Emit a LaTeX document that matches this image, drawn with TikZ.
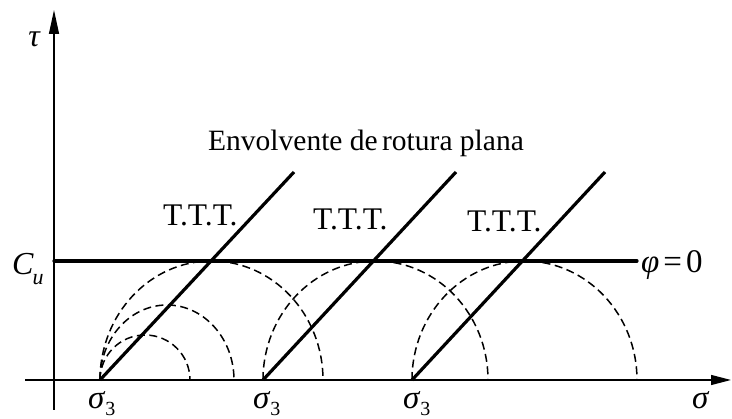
\documentclass[tikz,border=0pt]{standalone}
\usepackage{fontspec}
\setmainfont{Liberation Serif}
\usetikzlibrary{arrows.meta}
\tikzset{
  axisline/.style={line width=1.3pt},
  envline/.style={line width=3.2pt},
  mohr/.style={line width=1.5pt, dash pattern=on 8pt off 4.5pt},
  lbl/.style={inner sep=0pt, font=\fontsize{29.5}{34}\selectfont},
}
\newcommand{\sigthree}{{\fontsize{33}{36}\selectfont\itshape σ}\kern1pt\raisebox{-7pt}{\fontsize{20}{20}\selectfont 3}}
\begin{document}
\begin{tikzpicture}[x=1pt,y=1pt]
\useasboundingbox (0,0) rectangle (732,419);
% coordinates
\coordinate (ybot) at (54,9);
\coordinate (ytop) at (54,409);
\coordinate (xleft) at (25,39);
\coordinate (xright) at (731,39);
\coordinate (O1) at (100,39);
\coordinate (O2) at (263,39);
\coordinate (O3) at (412,39);
\coordinate (T1) at (294,247);
\coordinate (T2) at (456,247);
\coordinate (T3) at (605,247);
\coordinate (CuL) at (54,158);
\coordinate (CuR) at (637,158);
% Mohr circles
\draw[mohr] (O1) arc[start angle=180, end angle=0, x radius=45, y radius=45];
\draw[mohr] (O1) arc[start angle=180, end angle=0, x radius=67, y radius=75];
\draw[mohr] (O1) arc[start angle=180, end angle=0, x radius=111.5, y radius=119];
\draw[mohr] (O2) arc[start angle=180, end angle=0, x radius=112.5, y radius=119];
\draw[mohr] (O3) arc[start angle=180, end angle=0, x radius=112.5, y radius=119];
% axes
\draw[axisline, -{Triangle[length=24pt,width=10pt]}] (ybot) -- (ytop);
\draw[axisline, -{Triangle[length=20pt,width=10pt]}] (xleft) -- (xright);
% envelopes
\draw[envline] (O1) -- (T1);
\draw[envline] (O2) -- (T2);
\draw[envline] (O3) -- (T3);
\draw[envline, line cap=round] (CuL) -- (CuR);
% labels
\node[lbl, anchor=base] (tau) at (34,372) {\fontsize{32}{34}\selectfont\itshape τ};
\node[lbl, anchor=base west] (Cu) at (12,144) {\fontsize{32}{34}\selectfont\itshape C\kern-1pt\raisebox{-10pt}{\fontsize{22}{22}\selectfont u}};
\node[lbl, anchor=base west] (title) at (208,268) {Envolvente de\kern-3pt{} rotura plana};
\node[lbl, anchor=base west, font=\fontsize{31.5}{34}\selectfont] (ttt1) at (163,193) {T.T.T.};
\node[lbl, anchor=base west, font=\fontsize{31.5}{34}\selectfont] (ttt2) at (313,189) {T.T.T.};
\node[lbl, anchor=base west, font=\fontsize{31.5}{34}\selectfont] (ttt3) at (467,187) {T.T.T.};
\node[lbl, anchor=base west, font=\fontsize{33}{36}\selectfont] (phi) at (641,146) {\itshape φ\kern4pt\upshape=\kern4pt 0};
\node[lbl, anchor=base west] (s1) at (88,10) {\sigthree};
\node[lbl, anchor=base west] (s2) at (253,10) {\sigthree};
\node[lbl, anchor=base west] (s3) at (403,10) {\sigthree};
\node[lbl, anchor=base west] (sig) at (692,10) {\fontsize{33}{36}\selectfont\itshape σ};
\end{tikzpicture}
\end{document}
